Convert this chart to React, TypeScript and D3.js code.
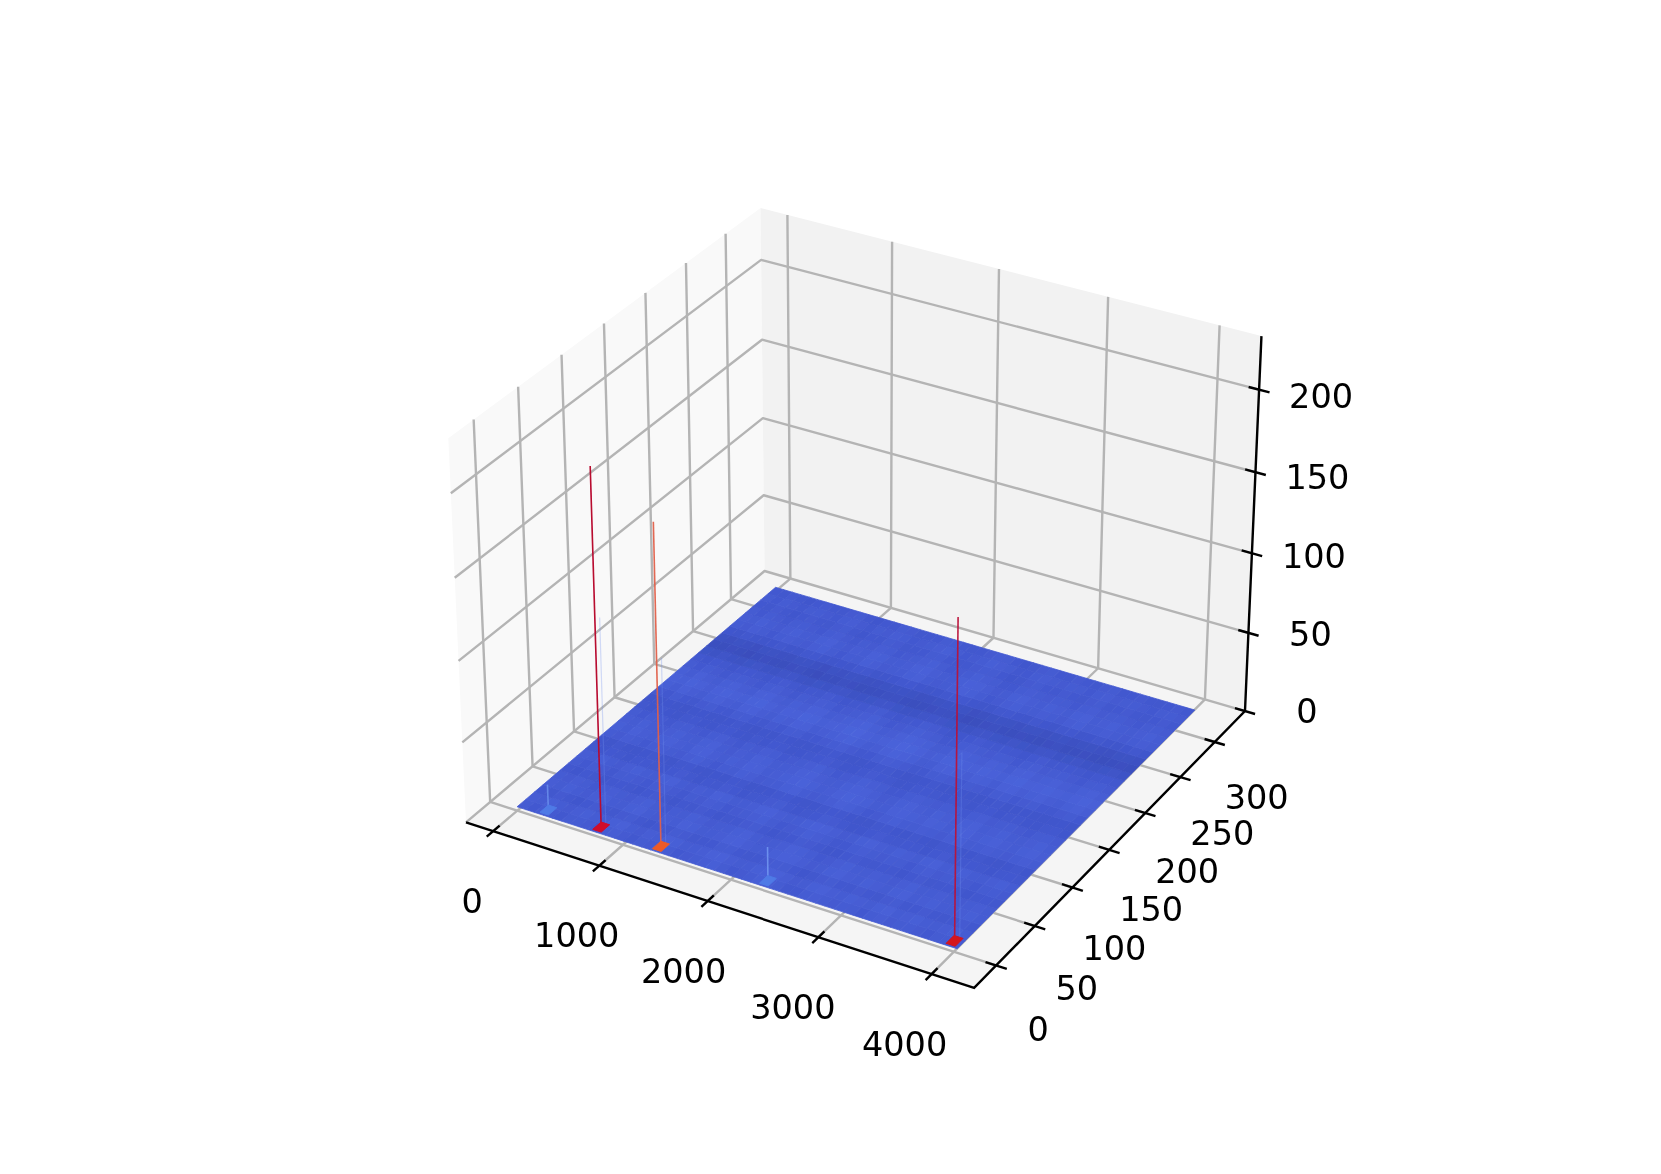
import React from "react";
import * as d3 from "d3";

const xTicks = [0, 1000, 2000, 3000, 4000];
const yTicks = [0, 50, 100, 150, 200, 250, 300];
const zTicks = [0, 50, 100, 150, 200];
const xDomain = [-260, 4370];
const yDomain = [-28, 345];
const zDomain = [0, 232];
const surfaceX = [0, 4030];
const surfaceY = [0, 325];

// Shade levels of the flat surface, front (y=0) to back.
const rowLevels = [5.2, 5.4, 5.0, 5.4, 5.3, 4.9, 5.2, 5.4, 4.9, 4.7, 5.3, 5.5, 5.4, 5.2, 4.8, 4.6, 5.1, 5.5, 5.7, 5.5, 5.2, 4.9, 4.0, 3.2, 3.6, 4.7, 5.3, 5.4, 5.2, 5.0, 5.2, 5.0];
const colLevels = [0.1, -0.1, 0.2, 0.0, -0.2, 0.1, 0.2, 0.0, -0.1, 0.2, 0.3, 0.0, -0.2, 0.1, 0.0, 0.3, 0.2, -0.1, 0.0, 0.1, 0.3, 0.4, 0.1, -0.1, 0.0, 0.2, 0.4, 0.3, 0.1, -0.2, -0.1, 0.2, 0.3, 0.1, 0.0, 0.2, 0.1, -0.1, 0.2, 0.3, 0.0, 0.1, 0.2, 0.0, -0.1, 0.1, 0.2, 0.0];
const surfaceZ = 2.5;

const spikeX = [250, 750, 1310, 2295, 3965];
const spikeY = [6, 6, 6, 6, 6];
const spikeZ = [19, 221, 199, 24, 195];
const spikeBase = ["#4f7ae6", "#d00a2c", "#ee5a26", "#4f7ae6", "#d4121f"];
const spikeLine = ["#6f95f0", "#b8082f", "#e0604a", "#7398f2", "#bb1038"];
const spikeOpacity = [0.75, 1, 0.95, 0.85, 0.95];
const spikeHalo = [0, 0.3, 0.3, 0, 0.3];

const W = 1661, H = 1174;
const DIST = 10;
const SX = 5095, SY = 5110, OX = 862.4, OY = 580;
const ASPECT = [1.1429, 1.1429, 0.8572];
const toX = d3.scaleLinear().domain(xDomain).range([-0.5, 0.5]);
const toY = d3.scaleLinear().domain(yDomain).range([-0.5, 0.5]);
const toZ = d3.scaleLinear().domain(zDomain).range([-0.5, 0.5]);

const U = [0.8660254, 0.5, 0];
const V = [-0.25, 0.4330127, 0.8660254];
const N = [0.4330127, -0.75, 0.5];
const dot = (a: number[], b: number[]) => a[0] * b[0] + a[1] * b[1] + a[2] * b[2];

function project(x: number, y: number, z: number): [number, number] {
  const d = [toX(x) * ASPECT[0], toY(y) * ASPECT[1], toZ(z) * ASPECT[2]];
  const w = DIST - dot(N, d);
  return [OX + (SX * dot(U, d)) / w, OY - (SY * dot(V, d)) / w];
}
const line3 = (pts: number[][]) =>
  d3.line()(pts.map((p) => project(p[0], p[1], p[2]))) as string;
const poly3 = (pts: number[][]) => line3(pts) + "Z";

const surfColor = d3
  .scaleLinear<string>()
  .domain([2.5, 5, 6.2, 20, 100, 194, 218])
  .range(["#384cb9", "#4258cf", "#4c65dc", "#5b84ea", "#dddddd", "#ee5a26", "#c00a2a"])
  .clamp(true);

const [x0, x1] = xDomain;
const [y0, y1] = yDomain;
const [z0, z1] = zDomain;
const GRID = "#b4b4b4";
const FONT = "'DejaVu Sans', sans-serif";

const xLabelDx = d3.scaleLinear().domain([0, 4000]).range([-21, -27]);
const yLabelDy = d3.scaleLinear().domain([0, 300]).range([64, 55]);
const zLabelDy = d3.scaleLinear().domain([0, 200]).range([0, 7]);

export default function App() {
  const cols = colLevels.length, rows = rowLevels.length;
  const xe = d3.scaleLinear().domain([0, cols]).range(surfaceX);
  const ye = d3.scaleLinear().domain([0, rows]).range(surfaceY);
  const dxTick = 0.02 * (x1 - x0), dyTick = 0.02 * (y1 - y0);
  return (
    <svg width={W} height={H} viewBox={`0 0 ${W} ${H}`} style={{ position: "absolute", left: 0, top: 0, background: "#fff" }}>
      <defs>
        <filter id="soft" x="0" y="0" width={W} height={H} filterUnits="userSpaceOnUse" primitiveUnits="userSpaceOnUse">
          <feGaussianBlur stdDeviation="0.55" />
        </filter>
      </defs>
      <g filter="url(#soft)">
        <rect x={0} y={0} width={W} height={H} fill="#fff" />
        <path d={poly3([[x0, y0, z0], [x0, y1, z0], [x0, y1, z1], [x0, y0, z1]])} fill="#f9f9f9" />
        <path d={poly3([[x0, y1, z0], [x1, y1, z0], [x1, y1, z1], [x0, y1, z1]])} fill="#f2f2f2" />
        <path d={poly3([[x0, y0, z0], [x1, y0, z0], [x1, y1, z0], [x0, y1, z0]])} fill="#f5f5f5" />
        <g fill="none" stroke={GRID} strokeWidth={2.4} strokeLinejoin="round">
          {xTicks.map((t) => <path key={t} d={line3([[t, y0, z0], [t, y1, z0], [t, y1, z1]])} />)}
          {yTicks.map((t) => <path key={t} d={line3([[x1, t, z0], [x0, t, z0], [x0, t, z1]])} />)}
          {zTicks.map((t) => <path key={t} d={line3([[x0, y0, t], [x0, y1, t], [x1, y1, t]])} />)}
        </g>
        <g>
          {rowLevels.map((r, j) =>
            colLevels.map((c, i) => {
              const col = surfColor(r + c);
              return (
                <path key={`${i}-${j}`} fill={col} stroke={col} strokeWidth={0.8}
                  d={poly3([[xe(i), ye(j), surfaceZ], [xe(i + 1), ye(j), surfaceZ], [xe(i + 1), ye(j + 1), surfaceZ], [xe(i), ye(j + 1), surfaceZ]])} />
              );
            })
          )}
        </g>
        <g>
          {spikeX.map((x, i) => (
            <g key={x}>
              {spikeHalo[i] > 0 && (
                <path d={line3([[x + 45, spikeY[i], 3], [x + 45, spikeY[i], spikeZ[i] * 0.6]])} stroke="#6f8ff0" strokeWidth={1.2} opacity={spikeHalo[i]} fill="none" />
              )}
              <path d={line3([[x, spikeY[i], 3], [x, spikeY[i], spikeZ[i]]])} stroke={spikeLine[i]} strokeWidth={1.6} opacity={spikeOpacity[i]} fill="none" />
              <path d={poly3([[x - 40, spikeY[i] - 5, 3], [x + 40, spikeY[i] - 5, 3], [x + 40, spikeY[i] + 5, 3], [x - 40, spikeY[i] + 5, 3]])} fill={spikeBase[i]} stroke={spikeBase[i]} strokeWidth={1} />
            </g>
          ))}
        </g>
        <g fill="none" stroke="#000" strokeWidth={2.4}>
          <path d={line3([[x0, y0, z0], [x1, y0, z0], [x1, y1, z0], [x1, y1, z1]])} />
          {xTicks.map((t) => <path key={t} d={line3([[t, y0 + dyTick, z0], [t, y0 - dyTick, z0]])} />)}
          {yTicks.map((t) => <path key={t} d={line3([[x1 - dxTick, t, z0], [x1 + dxTick, t, z0]])} />)}
          {zTicks.map((t) => <path key={t} d={line3([[x1 - dxTick, y1, t], [x1 + dxTick, y1, t]])} />)}
        </g>
        <g fontFamily={FONT} fontSize={33.5} fill="#000" textAnchor="middle" dominantBaseline="central">
          {xTicks.map((t) => { const [px, py] = project(t, y0, z0); return <text key={t} x={px + xLabelDx(t)} y={py + 70}>{t}</text>; })}
          {yTicks.map((t) => { const [px, py] = project(x1, t, z0); return <text key={t} x={px + 42} y={py + yLabelDy(t)}>{t}</text>; })}
          {zTicks.map((t) => { const [px, py] = project(x1, y1, t); return <text key={t} x={px + 62} y={py + zLabelDy(t)}>{t}</text>; })}
        </g>
      </g>
    </svg>
  );
}
